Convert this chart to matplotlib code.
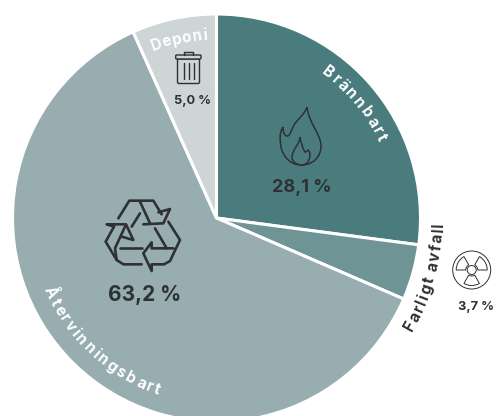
import numpy as np
import matplotlib
matplotlib.use("Agg")
import matplotlib.pyplot as plt
from matplotlib.font_manager import FontProperties
from matplotlib.patches import Circle, FancyBboxPatch, PathPatch, Wedge
from matplotlib.path import Path
from matplotlib.textpath import text_to_path

# printed labels
labels = ["Brännbart", "Farligt avfall", "Återvinningsbart", "Deponi"]
percent_text = ["28,1 %", "3,7 %", "63,2 %", "5,0 %"]
# slice sizes as drawn in the picture (not quite the printed numbers)
drawn_share = [27.1, 4.4, 61.8, 6.7]
colors = ["#4a7c7e", "#6f9496", "#98adb0", "#cdd5d7"]

DARK = "#2e3133"
FONT = "Inter"
W, H = 496, 416
CX, CY, R = 216.5, 218, 204


def py(y):
    # picture y (down) to axes y (up)
    return H - y


def curved(ax, s, r, a0, a1, size, color, top_in=False):
    # a0, a1 = clockwise degrees from 12 o'clock, start and end of the word
    fp = FontProperties(family=FONT, weight="bold", size=size)
    widths = [text_to_path.get_text_width_height_descent(c, fp, False)[0] for c in s]
    widths = np.array(widths) + 0.6
    pos = (np.cumsum(widths) - widths / 2) / widths.sum()
    for c, p in zip(s, pos):
        a = a0 + (a1 - a0) * p
        t = np.radians(a)
        x = CX + r * np.sin(t)
        y = CY - r * np.cos(t)
        rot = 180 - a if top_in else -a
        ax.text(x, py(y), c, fontproperties=fp, color=color, rotation=rot,
                rotation_mode="anchor", ha="center", va="center")


def line(ax, pts, lw=1.6, ox=0, oy=0, k=1.0):
    xs = [ox + p[0] * k for p in pts]
    ys = [py(oy + p[1] * k) for p in pts]
    ax.plot(xs, ys, color=DARK, lw=lw, solid_capstyle="round", solid_joinstyle="round")


def flame(ax):
    C = Path.CURVE4
    outer = [(307, 107), (304, 116), (296, 120), (293, 127),
             (290, 133), (290, 136), (287, 136), (284, 136), (283, 131), (283, 127),
             (279, 133), (280, 141), (281, 147), (283, 157), (291, 165), (301, 165),
             (313, 165), (321, 157), (321, 146), (321, 134), (309, 124), (307, 107)]
    inner = [(300, 137), (299, 146), (292, 149), (292, 158), (293, 163), (298, 165), (302, 165),
             (307, 165), (310, 160), (310, 155), (310, 152), (309, 151), (308, 150),
             (307, 151), (306, 152), (305, 152), (303, 149), (301, 143), (300, 137)]
    for pts in (outer, inner):
        codes = [Path.MOVETO] + [C] * (len(pts) - 1)
        p = Path([(x, py(y)) for x, y in pts], codes)
        ax.add_patch(PathPatch(p, fc="none", ec=DARK, lw=1.1))


def trash(ax):
    ax.add_patch(FancyBboxPatch((177.5, py(83.5)), 22, 24.5, boxstyle="round,pad=0,rounding_size=1.5",
                                fc="none", ec=DARK, lw=1.0))
    ax.add_patch(FancyBboxPatch((175.7, py(59)), 25.3, 4, boxstyle="round,pad=0,rounding_size=1",
                                fc=colors[3], ec=DARK, lw=1.0))
    line(ax, [(184, 55), (184, 52), (192.7, 52), (192.7, 55)], lw=1.0)
    for x in (183.5, 188.5, 194):
        line(ax, [(x, 63), (x, 79)], lw=1.0)


def radiation(ax):
    c = (471.7, py(270))
    ax.add_patch(Circle(c, 19, fc="none", ec=DARK, lw=0.7))
    ax.add_patch(Circle(c, 4.5, fc="none", ec=DARK, lw=0.7))
    for mid in (30, 150, 270):
        ax.add_patch(Wedge(c, 15.5, mid - 30, mid + 30, width=9.5, fc="none", ec=DARK, lw=0.7))


def recycle(ax):
    # traced in the zoom crop, 3x scale, origin at (90, 185)
    arms = [
        [(85, 100), (118, 47), (190, 47), (215, 88)],
        [(205, 82), (240, 72), (220, 115), (160, 118)],
        [(150, 50), (180, 115)],
        [(150, 85), (125, 125)],
        [(235, 110), (270, 165), (240, 228), (222, 238), (185, 238), (185, 258), (160, 205), (185, 172), (185, 190), (250, 190)],
        [(195, 130), (230, 190)],
        [(155, 190), (90, 190)],
        [(155, 238), (100, 238), (80, 225), (47, 170), (72, 125)],
        [(72, 125), (50, 118), (108, 118), (130, 165), (95, 155)],
        [(105, 125), (75, 190), (80, 225)],
    ]
    for a in arms:
        line(ax, a, lw=1.9, ox=90, oy=185, k=1 / 3)


fig = plt.figure(figsize=(W / 100, H / 100), dpi=100)
ax = fig.add_axes([0, 0, 1, 1])

ax.pie(drawn_share, colors=colors, startangle=90, counterclock=False,
       center=(CX, py(CY)), radius=R, wedgeprops={"edgecolor": "white", "linewidth": 2.2})
ax.set_xlim(0, W)
ax.set_ylim(0, H)
ax.set_aspect("equal")
ax.axis("off")

curved(ax, labels[0], 183, 35.5, 65, 11, "white")
curved(ax, labels[1], 222, 120.5, 91, 11, DARK, top_in=True)
curved(ax, labels[2], 182, 248, 198, 11, "white", top_in=True)
curved(ax, labels[3], 183, -21, -3, 11, "white")

pct = dict(family=FONT, weight="bold", color=DARK, ha="center", va="center")
ax.text(302, py(187), percent_text[0], fontsize=13, **pct)
ax.text(475.5, py(307), percent_text[1], fontsize=9.2, **pct)
ax.text(144.5, py(295), percent_text[2], fontsize=15, **pct)
ax.text(192.5, py(101), percent_text[3], fontsize=9.2, **pct)

flame(ax)
trash(ax)
radiation(ax)
recycle(ax)

fig.savefig("out.png", dpi=100)
